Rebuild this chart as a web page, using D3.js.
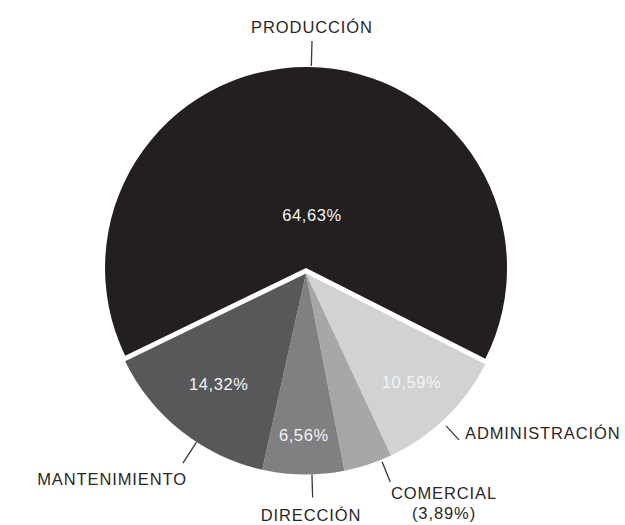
<!DOCTYPE html>
<html>
<head>
<meta charset="utf-8">
<script src="https://cdn.jsdelivr.net/npm/d3@7"></script>
<style>
  html, body { margin: 0; padding: 0; background: #ffffff; }
  svg { display: block; }
  text { font-family: "Liberation Sans", Arial, Helvetica, sans-serif; }
</style>
</head>
<body>
<div id="chart"></div>
<script>
// ---- data ----
const categories = ["PRODUCCIÓN", "ADMINISTRACIÓN", "COMERCIAL", "DIRECCIÓN", "MANTENIMIENTO"];
const values = [64.63, 10.59, 3.89, 6.56, 14.32];
const insideLabels = ["64,63%", "10,59%", null, "6,56%", "14,32%"];
const outsideLabels = [["PRODUCCIÓN"], ["ADMINISTRACIÓN"], ["COMERCIAL", "(3,89%)"], ["DIRECCIÓN"], ["MANTENIMIENTO"]];
const colors = ["#231f20", "#d1d2d3", "#a7a7a9", "#808082", "#58585a"];

// ---- layout ----
const W = 625, H = 525;
const cx = 306, cy = 273.5, R = 201;
const explode = [5.5, 0, 0, 0, 0];
const deg = Math.PI / 180;

const svg = d3.select("#chart").append("svg").attr("width", W).attr("height", H);
const g = svg.append("g").attr("transform", `translate(${cx},${cy})`);

const data = categories.map((c, i) => ({ cat: c, value: values[i], i }));
const pie = d3.pie().value(d => d.value).sort(null).startAngle(-115.85 * deg).endAngle((360 - 115.85) * deg);
const arcs = pie(data);
const arc = d3.arc().innerRadius(0).outerRadius(R);

function offsetFor(a, dist) {
  const m = (a.startAngle + a.endAngle) / 2;
  return [Math.sin(m) * dist, -Math.cos(m) * dist];
}

const slices = g.selectAll("g.slice").data(arcs).join("g")
  .attr("class", "slice")
  .attr("transform", d => { const o = offsetFor(d, explode[d.index]); return `translate(${o[0]},${o[1]})`; });
slices.append("path").attr("d", arc).attr("fill", (d, i) => colors[i]);

// inside labels
const inFrac = [0.265, 0.755, 0, 0.805, 0.70];
const inAngShift = [6, 0, 0, 0, 0];
slices.each(function(d, i) {
  if (!insideLabels[i]) return;
  const m = (d.startAngle + d.endAngle) / 2 + inAngShift[i] * deg;
  const rr = R * inFrac[i];
  d3.select(this).append("text")
    .attr("x", Math.sin(m) * rr)
    .attr("y", -Math.cos(m) * rr)
    .attr("dy", "0.35em")
    .attr("text-anchor", "middle")
    .attr("fill", "#f4f4f4")
    .attr("font-size", 16.5)
    .attr("letter-spacing", 0.6)
    .text(insideLabels[i]);
});

// leader lines
const leadAngle = [1.5, 137.4, 158, 178.3, 213];
const leadR0 = [R + 1, R + 6, R + 2, R, R];
const leadR1 = [R + 26, R + 25, R + 24, R + 23, R + 25];
const lab = g.append("g");
arcs.forEach((d, i) => {
  const a = leadAngle[i] * deg;
  const o = offsetFor(d, explode[i]);
  const x0 = o[0] + Math.sin(a) * leadR0[i], y0 = o[1] - Math.cos(a) * leadR0[i];
  const x1 = o[0] + Math.sin(a) * leadR1[i], y1 = o[1] - Math.cos(a) * leadR1[i];
  lab.append("line").attr("x1", x0).attr("y1", y0).attr("x2", x1).attr("y2", y1)
    .attr("stroke", "#3a3637").attr("stroke-width", 1.3);
});

// outside label text
const labelPos = [
  { x: 312, y: 33, anchor: "middle" },
  { x: 465, y: 439, anchor: "start" },
  { x: 444, y: 499, anchor: "middle" },
  { x: 311, y: 521, anchor: "middle" },
  { x: 187, y: 485, anchor: "end" }
];
outsideLabels.forEach((lines, i) => {
  const t = svg.append("text")
    .attr("x", labelPos[i].x).attr("y", labelPos[i].y)
    .attr("text-anchor", labelPos[i].anchor)
    .attr("fill", "#2b2728")
    .attr("font-size", 16.5)
    .attr("letter-spacing", 0.9);
  lines.forEach((l, k) => {
    t.append("tspan").attr("x", labelPos[i].x).attr("dy", k === 0 ? 0 : 20).text(l);
  });
});
</script>
</body>
</html>
